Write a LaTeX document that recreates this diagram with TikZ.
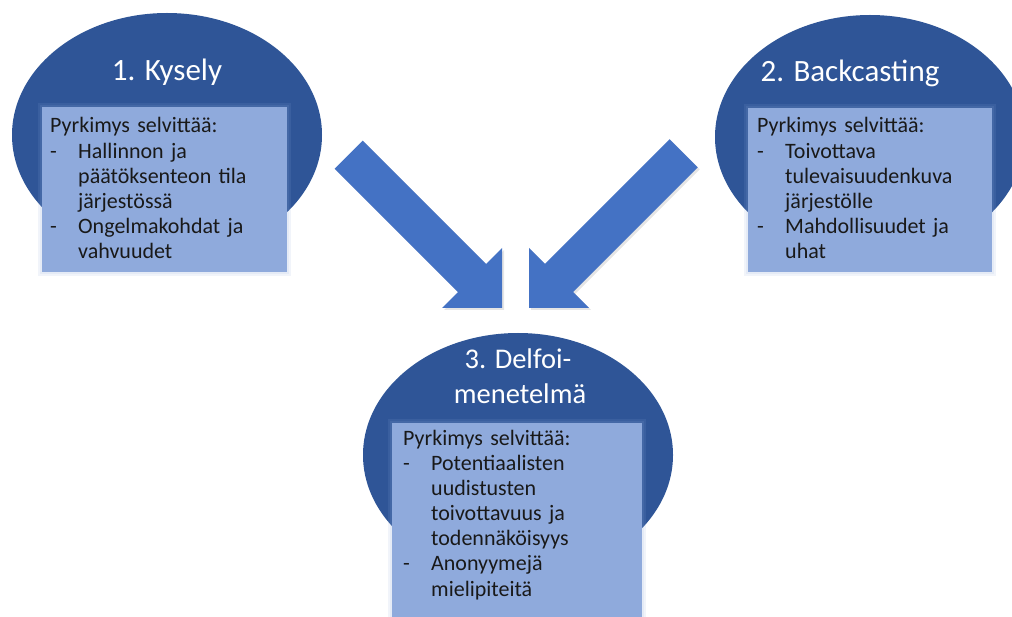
\documentclass[tikz,border=0pt]{standalone}
\usepackage{fontspec}
\setmainfont{Carlito}
\usetikzlibrary{shapes.geometric}
\definecolor{ellblue}{HTML}{2F5597}
\definecolor{boxblue}{HTML}{8FAADC}
\definecolor{arrblue}{HTML}{4472C4}
\newcommand\myitem[1]{\makebox[28pt][l]{-}#1}
\newcommand\mycont[1]{\hspace*{28pt}#1}
\tikzset{
  oval/.style={ellipse, fill=ellblue, draw=none, inner sep=0pt, minimum width=310pt, minimum height=244pt},
  ttl/.style={text=white, font=\fontsize{31}{28}\selectfont, anchor=base, inner sep=0pt},
  ttlsmall/.style={ttl, font=\fontsize{28.5}{28}\selectfont},
  infobox/.style={fill=boxblue, draw=none, anchor=north west, inner sep=0pt},
  boxtext/.style={anchor=base west, text width=240pt, align=left, inner sep=0pt, font=\fontsize{22}{25.2}\selectfont, text=black!90},
  blockarrow/.style={fill=arrblue, draw=none},
  arrshadow/.style={fill=black, opacity=0.10, draw=none},
}
\begin{document}
\begin{tikzpicture}[x=1pt,y=-1pt]
\useasboundingbox (0,0) rectangle (1012,617);
\clip (0,0) rectangle (1012,617);
\fill[white] (0,0) rectangle (1012,617);

% ellipses
\node[oval] (e1) at (167,135) {};
\node[oval] (e2) at (870,137) {};
\node[oval] (e3) at (518,455) {};

% soft glow around boxes
\foreach \g in {4,2} {
  \fill[boxblue, opacity=0.12] ({42-\g},{107-\g}) rectangle ({287+\g},{272+\g});
  \fill[boxblue, opacity=0.12] ({748-\g},{108-\g}) rectangle ({992+\g},{272+\g});
  \fill[boxblue, opacity=0.12] ({392-\g},{423-\g}) rectangle ({642+\g},{630});
}

% boxes
\node[infobox, minimum width=245pt, minimum height=165pt] (b1) at (42,107) {};
\node[infobox, minimum width=244pt, minimum height=164pt] (b2) at (748,108) {};
\node[infobox, minimum width=250pt, minimum height=205pt] (b3) at (392,423) {};

% titles
\node[ttl] (t1) at (167,81) {1. Kysely};
\node[ttl] (t2) at (850,82) {2. Backcasting};
\node[ttlsmall] (t3a) at (518,369) {3. Delfoi-};
\node[ttlsmall] (t3b) at (520,403) {menetelmä};

% box texts
\node[boxtext] (x1) at (50,133) {Pyrkimys selvittää:\\
\myitem{Hallinnon ja}\\
\mycont{päätöksenteon tila}\\
\mycont{järjestössä}\\
\myitem{Ongelmakohdat ja}\\
\mycont{vahvuudet}};
\node[boxtext] (x2) at (757,133) {Pyrkimys selvittää:\\
\myitem{Toivottava}\\
\mycont{tulevaisuudenkuva}\\
\mycont{järjestölle}\\
\myitem{Mahdollisuudet ja}\\
\mycont{uhat}};
\node[boxtext] (x3) at (403,445) {Pyrkimys selvittää:\\
\myitem{Potentiaalisten}\\
\mycont{uudistusten}\\
\mycont{toivottavuus ja}\\
\mycont{todennäköisyys}\\
\myitem{Anonyymejä}\\
\mycont{mielipiteitä}};

% block arrows
\fill[arrshadow] (336.6,170.8) -- (459.9,294.1) -- (444,310) -- (504,310) -- (504,250) -- (488.1,265.9) -- (364.8,142.6) -- cycle;
\fill[arrshadow] (671.6,141.2) -- (546.9,265.9) -- (531,250) -- (531,310) -- (591,310) -- (575.1,294.1) -- (699.8,169.4) -- cycle;
\fill[blockarrow] (334.6,168.8) -- (457.9,292.1) -- (442,308) -- (502,308) -- (502,248) -- (486.1,263.9) -- (362.8,140.6) -- cycle;
\fill[blockarrow] (669.6,139.2) -- (544.9,263.9) -- (529,248) -- (529,308) -- (589,308) -- (573.1,292.1) -- (697.8,167.4) -- cycle;
\end{tikzpicture}
\end{document}
